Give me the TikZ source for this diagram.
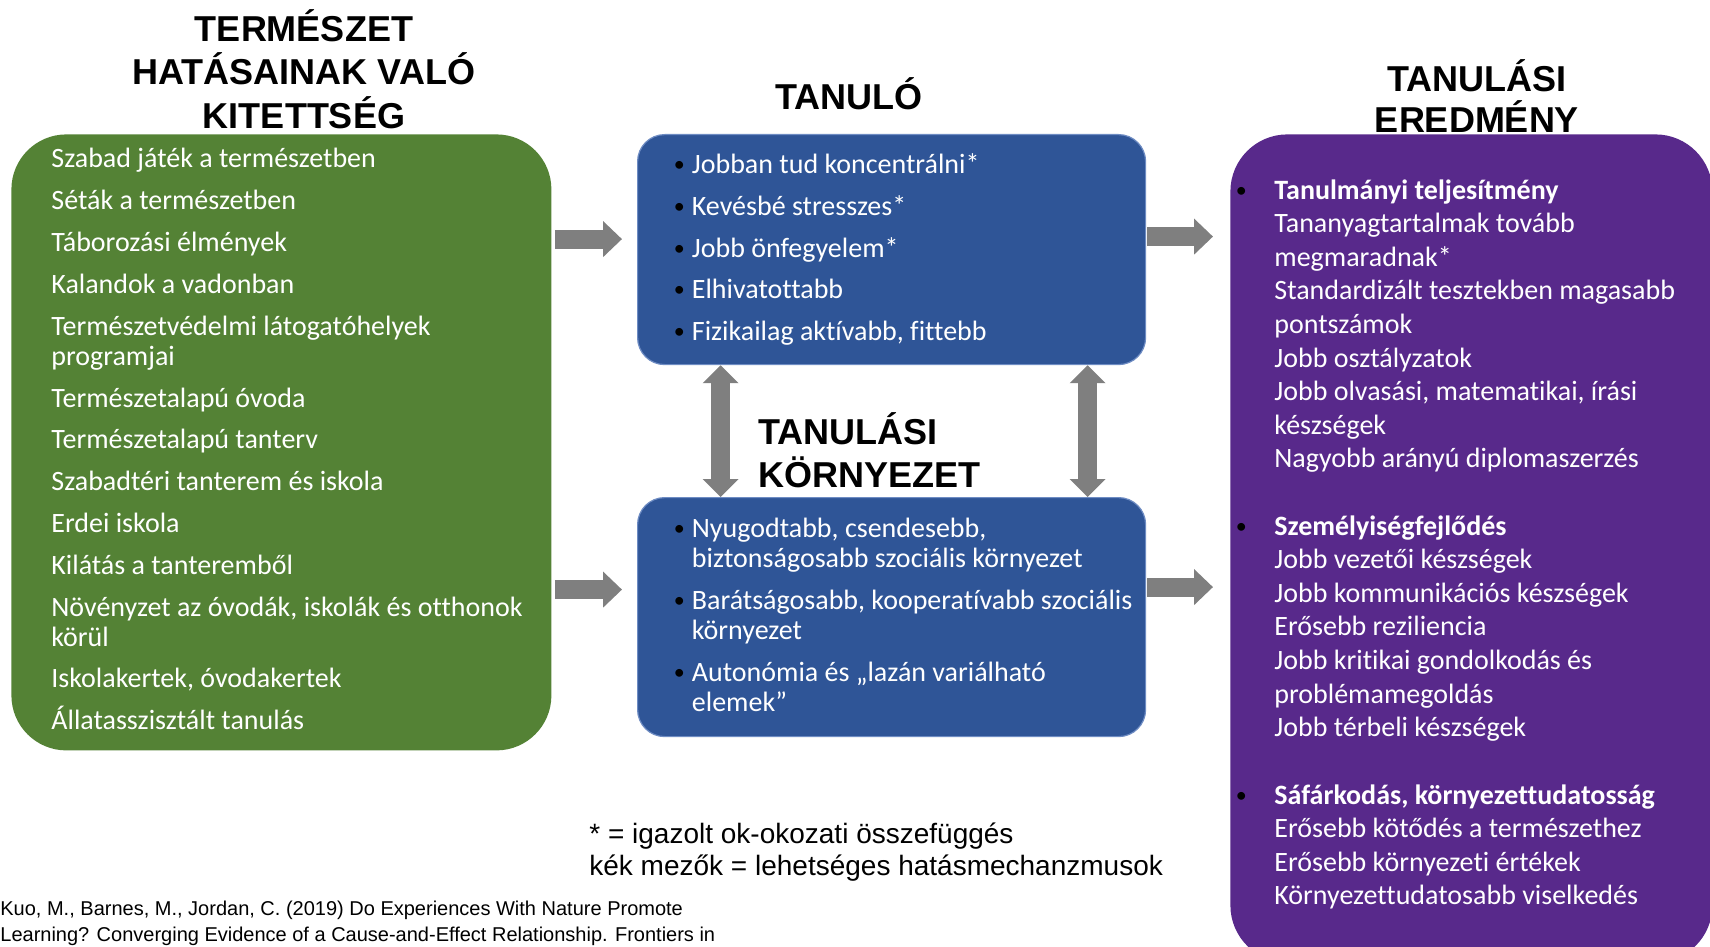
\documentclass[tikz,border=0pt]{standalone}
\usepackage{fontspec}
\setmainfont[Ligatures=NoCommon]{Carlito}
\newfontfamily\arialfont{Liberation Sans}
\usetikzlibrary{arrows.meta,calc}

\definecolor{natgreen}{RGB}{84,130,53}
\definecolor{mechblue}{RGB}{47,85,151}
\definecolor{mechedge}{RGB}{110,140,195}
\definecolor{outpurple}{RGB}{88,41,139}
\definecolor{arrowgray}{RGB}{127,127,127}

\tikzset{
  box/.style={anchor=north west, inner sep=0pt},
  heading/.style={anchor=base, inner sep=0pt, font=\arialfont\bfseries\fontsize{18}{22}\selectfont},
  item/.style={anchor=base west, inner sep=0pt, text=white, font=\fontsize{14}{17}\selectfont},
  note/.style={anchor=base west, inner sep=0pt, font=\arialfont\fontsize{14}{17}\selectfont},
  blockarrow/.style={draw=arrowgray, line width=9.5pt, -{Triangle[length=9.5pt,width=17.5pt]}},
  bothways/.style={draw=arrowgray, line width=9.5pt, {Triangle[length=9pt,width=17.5pt]}-{Triangle[length=9pt,width=17.5pt]}}
}
\newcommand{\bluedot}{\llap{\makebox[12.5pt]{\raisebox{1pt}{\textcolor{black}{\fontsize{11}{11}\selectfont •}}}}}
\newcommand{\purpledot}{\llap{\makebox[33pt]{\raisebox{1pt}{\textcolor{black}{\fontsize{11}{11}\selectfont •}}}}}

\begin{document}
\begin{tikzpicture}[x=0.5pt,y=-0.5pt]
\useasboundingbox (0,0) rectangle (1710,947);
\clip (0,0) rectangle (1710,947);

% headings
\node[heading] (exph1) at (304,41.5) {TERMÉSZET};
\node[heading] (exph2) at (304,85) {HATÁSAINAK VALÓ};
\node[heading] (exph3) at (304,128.5) {KITETTSÉG};
\node[heading] (puph) at (849,110) {TANULÓ};
\node[heading, anchor=base west] (envh1) at (758,444) {TANULÁSI};
\node[heading, anchor=base west] (envh2) at (758,487) {KÖRNYEZET};
\node[heading] (outh1) at (1477,92) {TANULÁSI};
\node[heading] (outh2) at (1477,133) {EREDMÉNY};

% boxes
\node[box, fill=natgreen, rounded corners=27.5pt, minimum width=270pt, minimum height=308pt] (expo) at (11,134) {};
\node[box, fill=mechblue, draw=mechedge, line width=0.6pt, rounded corners=13.5pt, minimum width=254pt, minimum height=115pt] (pupil) at (637,134) {};
\node[box, fill=mechblue, draw=mechedge, line width=0.6pt, rounded corners=13.5pt, minimum width=254pt, minimum height=119.5pt] (env) at (637,497) {};
\node[box, fill=outpurple, rounded corners=28.5pt, minimum width=241pt, minimum height=414pt] (outcome) at (1230,134) {};

% exposure list
\foreach \y/\txt [count=\i] in {168/Szabad játék a természetben, 209.8/Séták a természetben,
    251.6/Táborozási élmények, 293.4/Kalandok a vadonban, 335.2/Természetvédelmi látogatóhelyek,
    365.2/programjai, 407/Természetalapú óvoda, 448.8/Természetalapú tanterv,
    490.6/Szabadtéri tanterem és iskola, 532.4/Erdei iskola, 574.2/Kilátás a tanteremből,
    616/{Növényzet az óvodák, iskolák és otthonok}, 646/körül,
    687.8/{Iskolakertek, óvodakertek}, 729.6/Állatasszisztált tanulás}
  \node[item] (expo\i) at (51,\y) {\txt};

% learner
\foreach \y/\txt [count=\i] in {173.5/Jobban tud koncentrálni*, 215.3/Kevésbé stresszes*,
    257.1/Jobb önfegyelem*, 298.9/Elhivatottabb, 340.7/{Fizikailag aktívabb, fittebb}}
  \node[item] (pupil\i) at (691.5,\y) {\bluedot\txt};

% environment
\node[item] (env1) at (691.5,537) {\bluedot Nyugodtabb, csendesebb,};
\node[item] (env2) at (691.5,567) {biztonságosabb szociális környezet};
\node[item] (env3) at (691.5,609) {\bluedot Barátságosabb, kooperatívabb szociális};
\node[item] (env4) at (691.5,639) {környezet};
\node[item] (env5) at (691.5,681) {\bluedot Autonómia és „lazán variálható};
\node[item] (env6) at (691.5,711) {elemek”};

% outcomes
\foreach \txt [count=\k from 0] in {{\purpledot\textbf{Tanulmányi teljesítmény}},
    Tananyagtartalmak tovább, megmaradnak*, Standardizált tesztekben magasabb, pontszámok,
    Jobb osztályzatok, {Jobb olvasási, matematikai, írási}, készségek,
    Nagyobb arányú diplomaszerzés}
  \node[item] (acad\k) at (1274,199+33.6*\k) {\txt};
\foreach \txt [count=\k from 0] in {{\purpledot\textbf{Személyiségfejlődés}},
    Jobb vezetői készségek, Jobb kommunikációs készségek, Erősebb reziliencia,
    Jobb kritikai gondolkodás és, problémamegoldás, Jobb térbeli készségek}
  \node[item] (pers\k) at (1274,535+33.6*\k) {\txt};
\foreach \txt [count=\k from 0] in {{\purpledot\textbf{Sáfárkodás, környezettudatosság}},
    Erősebb kötődés a természethez, Erősebb környezeti értékek,
    Környezettudatosabb viselkedés}
  \node[item] (stew\k) at (1274,804+33.6*\k) {\txt};

% arrows
\draw[blockarrow] ($(expo.east |- pupil.west)+(3,-10.5)$) -- ($(pupil.west)+(-15,-10.5)$);
\draw[blockarrow] ($(expo.east |- env.west)+(3,-27.5)$) -- ($(env.west)+(-15,-27.5)$);
\draw[blockarrow] ($(pupil.east)+(1,-13)$) -- ($(outcome.west |- pupil.east)+(-17,-13)$);
\draw[blockarrow] ($(env.east)+(1,-30)$) -- ($(outcome.west |- env.east)+(-17,-30)$);
\draw[bothways] ($(pupil.south)+(-171,0)$) -- ($(env.north)+(-171,0)$);
\draw[bothways] ($(pupil.south)+(196,0)$) -- ($(env.north)+(196,0)$);

% notes
\node[note] (key1) at (589,843) {* = igazolt ok-okozati összefüggés};
\node[note] (key2) at (589,875.5) {kék mezők = lehetséges hatásmechanzmusok};
\node[note, font=\arialfont\fontsize{10}{13}\selectfont] (ref1) at (0,915)
  {Kuo, M., Barnes, M., Jordan, C. (2019) Do Experiences With Nature Promote};
\node[note, font=\arialfont\fontsize{10}{13}\selectfont] (ref2) at (0,941)
  {Learning? Converging Evidence of a Cause-and-Effect Relationship. Frontiers in};
\end{tikzpicture}
\end{document}
